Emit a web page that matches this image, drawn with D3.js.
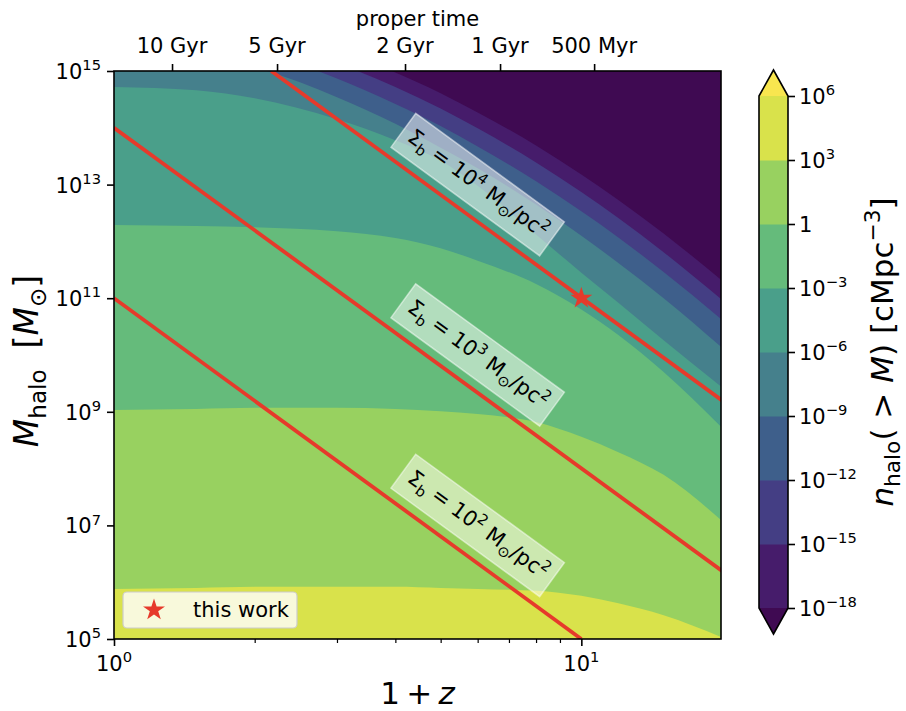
<!DOCTYPE html>
<html>
<head>
<meta charset="utf-8">
<script src="https://cdn.jsdelivr.net/npm/d3@7"></script>
<style>
  body { margin: 0; background: #fff; }
  text { font-family: "DejaVu Sans", sans-serif; white-space: pre; }
</style>
</head>
<body>
<div id="chart"></div>
<script>
// ---- data ----
// contour levels of n_halo(>M), as log10 [cMpc^-3]
const levelExps = [-18, -15, -12, -9, -6, -3, 0, 3, 6];
// under, 8 bands (low -> high), over
const bandColors = ["#3f0a52", "#461c6b", "#443e84", "#3e5f8b", "#45808c",
                    "#4a9f8a", "#65bb7b", "#98d160", "#d9e24b", "#f8e64f"];

// contour boundaries: [1+z, log10 M] (region below the curve has n above the level)
const zGrid      = [1, 1.5, 2, 3, 4, 5, 6, 8, 10, 12, 15, 20];
const logM_n1e3  = [5.88, 5.90, 5.92, 5.92, 5.92, 5.90, 5.88, 5.85, 5.76, 5.63, 5.42, 5.03];
const logM_n1    = [9.03, 9.05, 9.07, 9.07, 9.05, 9.01, 8.96, 8.82, 8.56, 8.29, 7.89, 7.08];
const logM_n1em3 = [12.29, 12.27, 12.25, 12.18, 12.06, 11.88, 11.66, 11.25, 10.80, 10.35, 9.70, 8.72];
const logM_n1em6 = [14.72, 14.66, 14.52, 14.15, 13.78, 13.42, 12.98, 12.12, 11.45, 10.92, 10.26, 9.43];
// these ones come in through the top edge
const edge_n1em9  = [[2.13, 15], [2.5, 14.80], [3, 14.54], [4, 14.07], [5, 13.65], [6, 13.29], [8, 12.65], [10, 12.10], [12, 11.62], [15, 11.0], [20, 10.13]];
const edge_n1em12 = [[2.73, 15], [3, 14.87], [4, 14.42], [5, 14.03], [6, 13.67], [8, 13.06], [10, 12.53], [12, 12.07], [15, 11.46], [20, 10.62]];
const edge_n1em15 = [[3.32, 15], [4, 14.72], [5, 14.34], [6, 13.99], [8, 13.39], [10, 12.87], [12, 12.41], [15, 11.81], [20, 10.97]];
const edge_n1em18 = [[3.93, 15], [5, 14.61], [6, 14.27], [8, 13.69], [10, 13.18], [12, 12.73], [15, 12.14], [20, 11.31]];

// constant baryon surface density lines, log10 Sigma_b and two points [1+z, log10 M]
const sigmaExps  = [2, 3, 4];
const sigmaLines = [[[1, 11.0], [10, 5.0]], [[1, 14.0], [20, 6.2]], [[2.17, 15], [20, 9.2]]];
const sigmaLabelPos = [[6, 7], [6, 10], [6, 13]];

const thisWork = [10, 11];

// top axis: proper time
const timeTickZ      = [1.331, 2.233, 4.195, 6.70, 10.65];
const timeTickLabels = ["10 Gyr", "5 Gyr", "2 Gyr", "1 Gyr", "500 Myr"];

const yTickExps = [5, 7, 9, 11, 13, 15];
const xMajor = [1, 10];
const xMinor = [2, 3, 4, 5, 6, 7, 8, 9];

// ---- layout ----
const W = 906, H = 711;
const L = 114, R = 721, T = 71, B = 639;
const FS = 21, LFS = 31;
const RED = "#e63a2b";

const x = d3.scaleLog().domain([1, 19.9]).range([L, R]);
const y = d3.scaleLog().domain([1e5, 1e15]).range([B, T]);
const pm = v => y(Math.pow(10, v));

const svg = d3.select("#chart").append("svg").attr("width", W).attr("height", H);

// rich text helper: parts of [text, mode]
function rich(sel, parts, size) {
  let off = 0;
  parts.forEach(([t, m]) => {
    const ts = sel.append("tspan").text(t);
    let target = 0, fs = size;
    if (m === "sub" || m === "isub") { target = size * 0.24; fs = size * 0.7; }
    if (m === "sup") { target = -size * 0.42; fs = size * 0.7; }
    ts.attr("dy", target - off).attr("font-size", fs);
    if (m === "i" || m === "isub") ts.attr("font-style", "italic");
    off = target;
  });
  return sel;
}

// ---- filled contours ----
svg.append("clipPath").attr("id", "plotclip")
  .append("rect").attr("x", L).attr("y", T).attr("width", R - L).attr("height", B - T);
const plot = svg.append("g").attr("clip-path", "url(#plotclip)");

plot.append("rect").attr("x", L).attr("y", T).attr("width", R - L).attr("height", B - T)
  .attr("fill", bandColors[0]);

const boundaries = [
  { exp: -18, pts: edge_n1em18 },
  { exp: -15, pts: edge_n1em15 },
  { exp: -12, pts: edge_n1em12 },
  { exp: -9,  pts: edge_n1em9 },
  { exp: -6,  pts: zGrid.map((z, i) => [z, logM_n1em6[i]]) },
  { exp: -3,  pts: zGrid.map((z, i) => [z, logM_n1em3[i]]) },
  { exp: 0,   pts: zGrid.map((z, i) => [z, logM_n1[i]]) },
  { exp: 3,   pts: zGrid.map((z, i) => [z, logM_n1e3[i]]) }
];

const contour = d3.line().x(d => x(d[0])).y(d => pm(d[1])).curve(d3.curveMonotoneX);
boundaries.forEach(b => {
  const p = b.pts;
  const d = contour(p) +
    `L${x(21)},${pm(p[p.length - 1][1])}L${x(21)},${y(1e5) + 5}L${x(1) - 5},${y(1e5) + 5}L${x(1) - 5},${pm(p[0][1])}Z`;
  const idx = levelExps.indexOf(b.exp) + 1;
  plot.append("path").attr("d", d).attr("fill", bandColors[idx]);
});

// ---- surface density lines ----
const straight = d3.line().x(d => x(d[0])).y(d => pm(d[1]));
plot.selectAll("path.sigma").data(sigmaLines).enter().append("path")
  .attr("class", "sigma")
  .attr("d", straight)
  .attr("fill", "none").attr("stroke", RED).attr("stroke-width", 3.8);

// labels on the lines
sigmaExps.forEach((e, i) => {
  const ln = sigmaLines[i];
  const ang = Math.atan2(pm(ln[1][1]) - pm(ln[0][1]), x(ln[1][0]) - x(ln[0][0])) * 180 / Math.PI;
  const g = plot.append("g")
    .attr("transform", `translate(${x(sigmaLabelPos[i][0])},${pm(sigmaLabelPos[i][1])}) rotate(${ang})`);
  const box = g.append("rect");
  const t = g.append("text").attr("text-anchor", "middle").attr("y", 6).attr("fill", "#000");
  rich(t, [["Σ", "n"], ["b", "sub"], [" = 10", "n"], [String(e), "sup"], [" M", "n"], ["⊙", "sub"], ["/pc", "n"], ["2", "sup"]], FS);
  const len = t.node().getComputedTextLength();
  const bw = len + 16, bh = 42;
  box.attr("x", -bw / 2).attr("y", -bh / 2).attr("width", bw).attr("height", bh)
    .attr("fill", "#fff").attr("fill-opacity", 0.5)
    .attr("stroke", "#fff").attr("stroke-opacity", 0.5).attr("stroke-width", 1.5);
});

// star
const star = d3.symbol().type(d3.symbolStar).size(150);
plot.append("path").attr("d", star())
  .attr("transform", `translate(${x(thisWork[0])},${pm(thisWork[1])})`)
  .attr("fill", RED);

// ---- axes ----
svg.append("rect").attr("x", L).attr("y", T).attr("width", R - L).attr("height", B - T)
  .attr("fill", "none").attr("stroke", "#000").attr("stroke-width", 1.6);

function styleTicks(g, w) {
  g.select(".domain").remove();
  g.selectAll("line").attr("stroke", "#000").attr("stroke-width", w);
}

svg.append("g").attr("transform", `translate(0,${B})`)
  .call(d3.axisBottom(x).tickValues(xMajor).tickSize(7).tickFormat(""))
  .call(g => styleTicks(g, 1.6));
svg.append("g").attr("transform", `translate(0,${B})`)
  .call(d3.axisBottom(x).tickValues(xMinor).tickSize(4).tickFormat(""))
  .call(g => styleTicks(g, 1.2));
svg.append("g").attr("transform", `translate(${L},0)`)
  .call(d3.axisLeft(y).tickValues(yTickExps.map(e => Math.pow(10, e))).tickSize(7).tickFormat(""))
  .call(g => styleTicks(g, 1.6));
svg.append("g").attr("transform", `translate(0,${T})`)
  .call(d3.axisTop(x).tickValues(timeTickZ).tickSize(7).tickFormat(""))
  .call(g => styleTicks(g, 1.6));

// tick labels
xMajor.forEach(v => {
  const t = svg.append("text").attr("x", x(v)).attr("y", 671).attr("text-anchor", "middle");
  rich(t, [["10", "n"], [String(Math.round(Math.log10(v))), "sup"]], FS);
});
yTickExps.forEach(e => {
  const t = svg.append("text").attr("x", 101).attr("y", pm(e) + 8).attr("text-anchor", "end");
  rich(t, [["10", "n"], [String(e), "sup"]], FS);
});
timeTickZ.forEach((z, i) => {
  svg.append("text").attr("x", x(z)).attr("y", 53).attr("text-anchor", "middle")
    .attr("font-size", FS).text(timeTickLabels[i]);
});
svg.append("text").attr("x", (L + R) / 2).attr("y", 26).attr("text-anchor", "middle")
  .attr("font-size", FS).text("proper time");

// axis labels
rich(svg.append("text").attr("x", (L + R) / 2).attr("y", 704).attr("text-anchor", "middle"),
  [["1\u2009+\u2009", "n"], ["z", "i"]], LFS);
rich(svg.append("text").attr("transform", `translate(38,${(T + B) / 2 + 6}) rotate(-90)`).attr("text-anchor", "middle"),
  [["M", "i"], ["halo", "sub"], ["  [", "n"], ["M", "i"], ["⊙", "sub"], ["]", "n"]], 33);

// ---- legend ----
const lg = svg.append("g");
lg.append("rect").attr("x", 123).attr("y", 592).attr("width", 174).attr("height", 36).attr("rx", 4)
  .attr("fill", "#fff").attr("fill-opacity", 0.8).attr("stroke", "#ccc").attr("stroke-width", 1.2);
lg.append("path").attr("d", star()).attr("transform", "translate(154,610)").attr("fill", RED);
lg.append("text").attr("x", 193).attr("y", 617).attr("font-size", FS).text("this work");

// ---- colorbar ----
const cbL = 759, cbR = 788, cbMid = (cbL + cbR) / 2;
const cb = d3.scaleLinear().domain([-18, 6]).range([608, 96]);
const ext = 26;
const cbg = svg.append("g");
for (let i = 0; i < levelExps.length - 1; i++) {
  cbg.append("rect").attr("x", cbL).attr("width", cbR - cbL)
    .attr("y", cb(levelExps[i + 1])).attr("height", cb(levelExps[i]) - cb(levelExps[i + 1]) + 0.5)
    .attr("fill", bandColors[i + 1]);
}
cbg.append("path")
  .attr("d", `M${cbL},${cb(6)}L${cbMid},${cb(6) - ext}L${cbR},${cb(6)}Z`)
  .attr("fill", bandColors[9]);
cbg.append("path")
  .attr("d", `M${cbL},${cb(-18)}L${cbMid},${cb(-18) + ext}L${cbR},${cb(-18)}Z`)
  .attr("fill", bandColors[0]);
cbg.append("path")
  .attr("d", `M${cbL},${cb(6)}L${cbMid},${cb(6) - ext}L${cbR},${cb(6)}L${cbR},${cb(-18)}L${cbMid},${cb(-18) + ext}L${cbL},${cb(-18)}Z`)
  .attr("fill", "none").attr("stroke", "#000").attr("stroke-width", 1.6);

svg.append("g").attr("transform", `translate(${cbR},0)`)
  .call(d3.axisRight(cb).tickValues(levelExps).tickSize(7).tickFormat(""))
  .call(g => styleTicks(g, 1.6));

levelExps.forEach(e => {
  const t = svg.append("text").attr("x", 799).attr("y", cb(e) + 8);
  if (e === 0) rich(t, [["1", "n"]], FS);
  else rich(t, [["10", "n"], [e < 0 ? "−" + (-e) : String(e), "sup"]], FS);
});

rich(svg.append("text").attr("transform", `translate(893,${cb(-6)}) rotate(-90)`).attr("text-anchor", "middle"),
  [["n", "i"], ["halo", "sub"], ["( > ", "n"], ["M", "i"], [") [cMpc", "n"], ["−3", "sup"], ["]", "n"]], LFS);
</script>
</body>
</html>
